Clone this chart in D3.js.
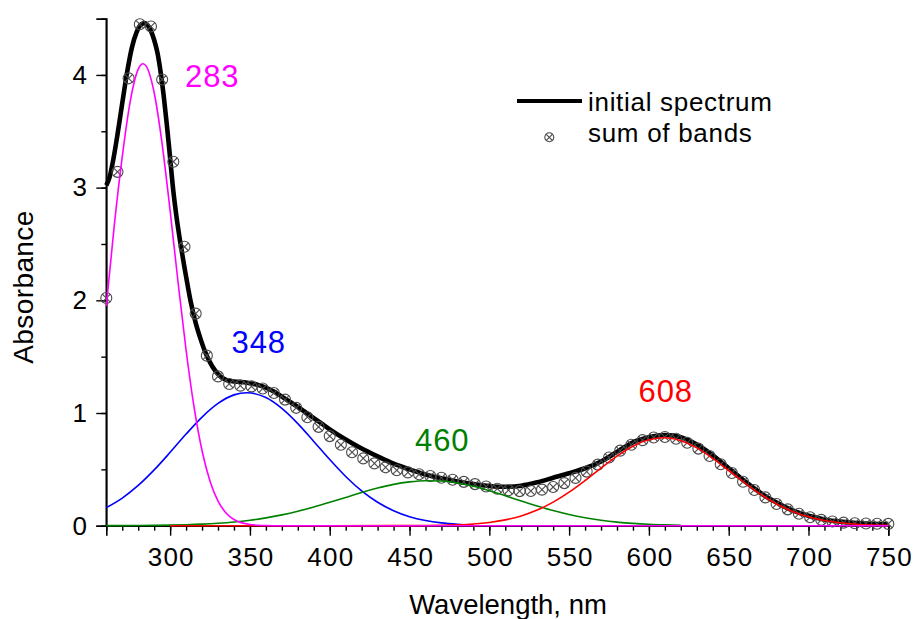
<!DOCTYPE html>
<html>
<head>
<meta charset="utf-8">
<script src="https://cdn.jsdelivr.net/npm/d3@7/dist/d3.min.js"></script>
<style>
  html, body { margin: 0; padding: 0; background: #fff; }
  svg { display: block; }
  text { font-family: "Liberation Sans", Arial, sans-serif; }
</style>
</head>
<body>
<svg id="chart" width="914" height="619"></svg>
<script>
// ---------------- DATA ----------------
const xTicks = [300, 350, 400, 450, 500, 550, 600, 650, 700, 750];
const yTicks = [0, 1, 2, 3, 4];

// initial spectrum (thick black line)
const spectrumWl = [260,262,264,267,270,273,276,279,282,284,286,288,290,292,294,296,298,300,302,304,307,310,313,316,319,322,325,328,331,335,340,345,350,355,360,365,370,375,380,385,390,395,400,410,420,430,440,450,460,470,480,490,500,510,520,530,540,550,560,570,580,590,600,610,620,630,640,650,660,670,680,690,700,710,720,730,740,750];
const spectrumAbs = [3.02,3.09,3.22,3.47,3.75,4.02,4.24,4.38,4.45,4.46,4.44,4.39,4.31,4.20,4.03,3.81,3.55,3.26,2.97,2.74,2.46,2.21,1.98,1.80,1.66,1.54,1.45,1.38,1.33,1.295,1.28,1.275,1.265,1.25,1.225,1.19,1.145,1.10,1.055,1.005,0.955,0.905,0.855,0.765,0.685,0.615,0.55,0.50,0.455,0.42,0.393,0.37,0.353,0.345,0.355,0.385,0.425,0.465,0.51,0.57,0.655,0.74,0.785,0.805,0.785,0.72,0.625,0.51,0.395,0.29,0.205,0.135,0.088,0.056,0.036,0.024,0.017,0.014];

// sum of bands (markers)
const sumWl = [260,267,274,281,288,295,302,309,316,323,330,337,344,351,358,365,372,379,386,393,400,407,414,421,428,435,442,449,456,463,470,477,484,491,498,505,512,519,526,533,540,547,554,561,568,575,582,589,596,603,610,617,624,631,638,645,652,659,666,673,680,687,694,701,708,715,722,729,736,743,750];
const sumAbs = [2.02,3.14,3.97,4.45,4.43,3.96,3.23,2.475,1.882,1.509,1.325,1.258,1.243,1.236,1.217,1.177,1.119,1.046,0.963,0.877,0.795,0.718,0.652,0.597,0.553,0.518,0.492,0.473,0.456,0.441,0.425,0.408,0.389,0.369,0.348,0.328,0.315,0.307,0.308,0.320,0.343,0.378,0.424,0.480,0.542,0.605,0.666,0.719,0.759,0.783,0.787,0.771,0.736,0.684,0.619,0.545,0.468,0.390,0.317,0.251,0.193,0.145,0.106,0.075,0.052,0.037,0.027,0.022,0.019,0.017,0.016];

// band 283 (magenta)
const band283Wl = [260,265,270,275,280,283,285,290,295,300,305,310,315,320,325,330,335,340,345,350,355,360,370,400,500,600,700,750];
const band283Abs = [1.95,2.665,3.275,3.766,4.051,4.10,4.078,3.842,3.387,2.793,2.156,1.557,1.052,0.665,0.394,0.218,0.113,0.055,0.025,0.0105,0.0042,0.0016,0,0,0,0,0,0];

// band 348 (blue)
const band348Wl = [260,270,280,290,300,310,320,330,340,348,360,370,380,390,400,410,420,430,440,450,460,470,480,490];
const band348Abs = [0.160,0.245,0.357,0.495,0.651,0.813,0.964,1.085,1.161,1.18,1.137,1.041,0.906,0.748,0.587,0.437,0.309,0.208,0.133,0.080,0.046,0.025,0.013,0.006];

// band 460 (green)
const band460Wl = [260,270,280,290,300,310,320,330,340,350,360,370,380,390,400,410,420,430,440,450,460,470,480,490,500,510,520,530,540,550,560,570,580,590,600,610,620];
const band460Abs = [0.0004,0.0008,0.0016,0.0028,0.0050,0.0084,0.0136,0.0215,0.0328,0.0484,0.0693,0.0958,0.128,0.166,0.208,0.251,0.295,0.334,0.367,0.389,0.3994,0.396,0.379,0.350,0.311,0.266,0.219,0.174,0.134,0.0987,0.0702,0.0482,0.0318,0.0203,0.0124,0.0074,0.0042];

// band 608 (red)
const band608Wl = [300,350,400,440,450,460,470,480,490,500,510,520,530,540,550,560,570,580,590,600,610,620,630,640,650,660,670,680,690,700,710,720,730,740,750];
const band608Abs = [0,0,0,0.0003,0.0007,0.0017,0.0037,0.0078,0.0155,0.0291,0.0517,0.087,0.1385,0.2088,0.2976,0.4012,0.5119,0.618,0.7058,0.7627,0.78,0.7543,0.6904,0.5978,0.4898,0.3796,0.2784,0.1932,0.1268,0.0788,0.0463,0.0257,0.0135,0.0067,0.0032];

const legendLabels = ["initial spectrum", "sum of bands"];
const xTitle = "Wavelength, nm";
const yTitle = "Absorbance";

// ---------------- DRAW ----------------
const svg = d3.select("#chart");
const x = d3.scaleLinear().domain([260, 750]).range([106.3, 888.3]);
const y = d3.scaleLinear().domain([0, 4.5]).range([525.7, 18.6]);

const zip = (a, b) => a.map((v, i) => [v, b[i]]);
const line = d3.line().x(d => x(d[0])).y(d => y(d[1])).curve(d3.curveMonotoneX);

// axes
const gx = svg.append("g").attr("transform", `translate(0,${y(0)})`);
gx.call(d3.axisBottom(x).tickValues(d3.range(260, 751, 10)).tickSize(5).tickFormat(""));
gx.append("g").call(d3.axisBottom(x).tickValues(xTicks).tickSize(10).tickPadding(11.5).tickFormat(d3.format("d")));
const gy = svg.append("g").attr("transform", `translate(${x(260)},0)`);
gy.call(d3.axisLeft(y).tickValues(d3.range(0, 4.51, 0.5)).tickSize(5).tickFormat(""));
gy.append("g").call(d3.axisLeft(y).tickValues(yTicks).tickSize(10).tickPadding(9.3).tickFormat(d3.format("d")));
svg.selectAll(".domain").attr("stroke", "#000").attr("stroke-width", 1.6);
svg.selectAll(".tick line").attr("stroke", "#000").attr("stroke-width", 1.4);
svg.selectAll(".tick text").attr("font-size", 26).attr("fill", "#000")
   .attr("font-family", '"Liberation Sans", Arial, sans-serif');
gx.selectAll(".tick text").attr("letter-spacing", 1.2).attr("dx", 0.6);
gx.select("g").select(".domain").remove();
gy.select("g").select(".domain").remove();
gx.select(".domain").attr("d", `M${x(260)},0H${x(750)}`);
gy.select(".domain").attr("d", `M0,${y(4.5)}V${y(0)}`);

// axis titles
svg.append("text").attr("x", 508).attr("y", 614).attr("text-anchor", "middle")
  .attr("font-size", 27.5).text(xTitle);
svg.append("text").attr("transform", "translate(33,287) rotate(-90)").attr("text-anchor", "middle")
  .attr("font-size", 28).attr("letter-spacing", 0.4).text(yTitle);

// initial spectrum
svg.append("path").datum(zip(spectrumWl, spectrumAbs))
  .attr("d", line).attr("fill", "none").attr("stroke", "#000").attr("stroke-width", 4.6)
  .attr("stroke-linejoin", "round");

// markers
function marker(g, cx, cy, r) {
  const m = g.append("g").attr("transform", `translate(${cx},${cy})`)
    .attr("fill", "none").attr("stroke", "#4a4a4a").attr("stroke-width", 1.1);
  m.append("circle").attr("r", r);
  const k = r * 0.72;
  m.append("line").attr("x1", -k).attr("y1", -k).attr("x2", k).attr("y2", k);
  m.append("line").attr("x1", -k).attr("y1", k).attr("x2", k).attr("y2", -k);
}
const gm = svg.append("g");
zip(sumWl, sumAbs).forEach(d => marker(gm, x(d[0]), y(d[1]), 5.5));

// bands
const bands = [
  {wl: band348Wl, abs: band348Abs, color: "#0000ff"},
  {wl: band460Wl, abs: band460Abs, color: "#008000"},
  {wl: band608Wl, abs: band608Abs, color: "#ff0000"},
  {wl: band283Wl, abs: band283Abs, color: "#ff00ff"}
];
bands.forEach(b => {
  svg.append("path").datum(zip(b.wl, b.abs)).attr("d", line)
    .attr("fill", "none").attr("stroke", b.color).attr("stroke-width", 1.6);
});

// peak labels
const peakLabels = [
  {t: "283", color: "#ff00ff", px: 185, py: 86.5},
  {t: "348", color: "#0000ff", px: 231.5, py: 353},
  {t: "460", color: "#008000", px: 415, py: 450.5},
  {t: "608", color: "#ff0000", px: 638.5, py: 401.5}
];
peakLabels.forEach(p => {
  svg.append("text").attr("x", p.px).attr("y", p.py).attr("fill", p.color)
    .attr("font-size", 31).attr("letter-spacing", 0.9).text(p.t);
});

// legend
svg.append("line").attr("x1", 517).attr("x2", 582).attr("y1", 101).attr("y2", 101)
  .attr("stroke", "#000").attr("stroke-width", 4.2);
svg.append("text").attr("x", 588).attr("y", 110.5).attr("font-size", 26).attr("letter-spacing", 0.7).text(legendLabels[0]);
marker(svg, 549.3, 137.3, 4.5);
svg.append("text").attr("x", 588).attr("y", 142).attr("font-size", 26).attr("letter-spacing", 0.7).text(legendLabels[1]);
</script>
</body>
</html>
